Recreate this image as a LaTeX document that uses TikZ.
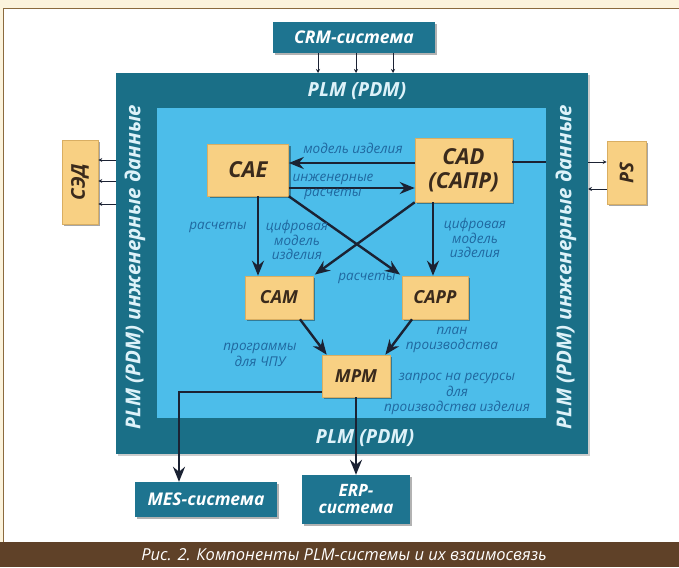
\documentclass[tikz,border=0pt]{standalone}
\usepackage{fontspec}
\setmainfont{Open Sans}
\usetikzlibrary{arrows.meta,shadows}
\definecolor{cream}{HTML}{FCF3DC}
\definecolor{panelline}{HTML}{8B6A3E}
\definecolor{capbrown}{HTML}{5F4128}
\definecolor{plmteal}{HTML}{1A6F87}
\definecolor{systeal}{HTML}{1E7490}
\definecolor{innerblue}{HTML}{4CBDEA}
\definecolor{compfill}{HTML}{F8D083}
\definecolor{compedge}{HTML}{D9AE62}
\definecolor{comptext}{HTML}{3A2A1C}
\definecolor{arrowdark}{HTML}{1B2233}
\definecolor{lblblue}{HTML}{2068A0}
\definecolor{plmtext}{HTML}{DDF2F9}
\begin{document}
\begin{tikzpicture}[x=1pt,y=-1pt,
  comp/.style={draw=compedge, line width=0.6pt, fill=compfill, inner sep=0pt,
    font=\fontsize{22}{24}\selectfont\bfseries\itshape, text=comptext, align=center,
    drop shadow={shadow xshift=2pt, shadow yshift=-2pt, fill=black, opacity=0.35}},
  small/.style={comp, font=\fontsize{18}{20}\selectfont\bfseries\itshape},
  sys/.style={fill=systeal, inner sep=0pt, text=white, align=center,
    font=\fontsize{17.5}{18}\selectfont\bfseries\itshape,
    drop shadow={shadow xshift=2pt, shadow yshift=-2pt, fill=black, opacity=0.3}},
  big/.style={draw=arrowdark, line width=2.4pt, -{Stealth[length=15pt,width=12pt,inset=5pt]}},
  bigline/.style={draw=arrowdark, line width=2.4pt},
  thin/.style={draw=arrowdark, line width=0.8pt, -{Stealth[length=4pt,width=4pt]}},
  lbl/.style={font=\fontsize{13.5}{15.5}\selectfont\itshape, text=lblblue, align=center, inner sep=0pt},
  lbltight/.style={lbl, font=\fontsize{13.5}{13.5}\selectfont\itshape},
  plmlbl/.style={font=\fontsize{19.5}{20}\selectfont\bfseries\itshape, text=plmtext, inner sep=0pt}
]
\useasboundingbox (0,0) rectangle (679,567);
% background
\fill[cream] (0,0) rectangle (679,567);
\fill[white] (3,9) rectangle (679,542);
\draw[panelline, line width=1pt] (679,9) -- (3,9) -- (3,542);
\fill[capbrown] (0,542) rectangle (679,567);
\node[font=\fontsize{16.5}{18}\selectfont\itshape, text=white, inner sep=0pt] (cap) at (344,554.5)
  {Рис. 2. Компоненты PLM-системы и их взаимосвязь};

% PLM frame
\node[fill=plmteal, minimum width=472pt, minimum height=381pt, inner sep=0pt,
  drop shadow={shadow xshift=2pt, shadow yshift=-2pt, fill=black, opacity=0.2}] (plm) at (352,263.5) {};
\node[fill=innerblue, minimum width=389pt, minimum height=310pt, inner sep=0pt] (inner) at (351.5,263) {};
\node[plmlbl] (ptop) at (357,91) {PLM (PDM)};
\node[plmlbl] (pbot) at (365,438) {PLM (PDM)};
\node[plmlbl, font=\fontsize{20.5}{21}\selectfont\bfseries\itshape, rotate=90] (pleft) at (135,267) {PLM (PDM) инженерные данные};
\node[plmlbl, font=\fontsize{20.5}{21}\selectfont\bfseries\itshape, rotate=90] (pright) at (566,267) {PLM (PDM) инженерные данные};

% outside systems
\node[sys, minimum width=162pt, minimum height=31pt] (crm) at (354,37.5) {CRM-система};
\node[sys, minimum width=142pt, minimum height=35pt] (mes) at (206,499.5) {MES-система};
\node[sys, minimum width=108pt, minimum height=49pt, font=\fontsize{17}{17}\selectfont\bfseries\itshape] (erp) at (356,499.5) {ERP-\\система};
\node[comp, rotate=90, minimum width=84pt, minimum height=36pt, font=\fontsize{19}{20}\selectfont\bfseries\itshape] (sed) at (80,182) {СЭД};
\node[comp, rotate=90, minimum width=63pt, minimum height=39pt, font=\fontsize{19}{20}\selectfont\bfseries\itshape] (ps) at (626.5,172.5) {PS};

% components
\node[comp, minimum width=81pt, minimum height=52pt] (cae) at (248,170) {CAE};
\node[comp, minimum width=97pt, minimum height=64pt] (cad) at (463.5,170) {CAD\\(САПР)};
\node[small, minimum width=68pt, minimum height=43pt] (cam) at (279,297.5) {CAM};
\node[small, minimum width=66pt, minimum height=43pt] (capp) at (435,297.5) {CAPP};
\node[small, minimum width=68pt, minimum height=42pt] (mpm) at (356,376) {MPM};

% small arrows
\coordinate (k1) at (318,73);
\coordinate (k2) at (356,73);
\coordinate (k3) at (393,73);
\draw[thin] (crm.south -| k1) -- (k1);
\draw[thin] (crm.south -| k2) -- (k2);
\draw[thin] (crm.south -| k3) -- (k3);
\coordinate (s1) at (116,160);
\coordinate (s2) at (116,181);
\coordinate (s3) at (116,204);
\draw[thin] (s1) -- (sed.south |- s1);
\draw[thin] (s2) -- (sed.south |- s2);
\draw[thin] (s3) -- (sed.south |- s3);
\coordinate (q1) at (588,162);
\coordinate (q2) at (588,189);
\draw[thin] (q1) -- (ps.north |- q1);
\draw[thin] (ps.north |- q2) -- (q2);

% main arrows
\draw[big] ([yshift=7pt]cad.west) -- ([yshift=7pt]cae.east);
\draw[big] ([yshift=-18pt]cae.east) -- ([yshift=-18pt]cad.west);
\coordinate (ci) at (546,162);
\draw[bigline] ([yshift=8pt]cad.east) -- (ci);
\coordinate (c1) at (258,196);
\draw[big] (c1) -- (c1 |- cam.north);
\coordinate (c2) at (433,202);
\draw[big] (c2) -- (c2 |- capp.north);
\draw[big, shorten >=2pt] (cae.south east) -- (capp.north west);
\draw[big, shorten >=2pt] (cad.south west) -- (cam.north east);
\draw[big] ([xshift=21pt]cam.south) -- ([xshift=5pt]mpm.north west);
\draw[big] ([xshift=-23pt]capp.south) -- ([xshift=-5pt]mpm.north east);
\draw[big] ([yshift=-16pt]mpm.west) -| ([xshift=-27pt]mes.north);
\draw[big] (mpm.south) -- (erp.north);

% labels
\node[lbl] (l1) at (353,148) {модель изделия};
\node[lbl] (l2) at (333,187) {инженерные\\расчеты};
\node[lbl] (l3) at (218,227) {расчеты};
\node[lbltight] (l4) at (297,240) {цифровая\\модель\\изделия};
\node[lbltight] (l5) at (475,238) {цифровая\\модель\\изделия};
\node[lbl] (l6) at (367,278) {расчеты};
\node[lbl] (l7) at (260,355) {программы\\для ЧПУ};
\node[lbl] (l8) at (452,340) {план\\производства};
\node[lbl] (l9) at (457,394) {запрос на ресурсы\\для\\производства изделия};
\end{tikzpicture}
\end{document}
